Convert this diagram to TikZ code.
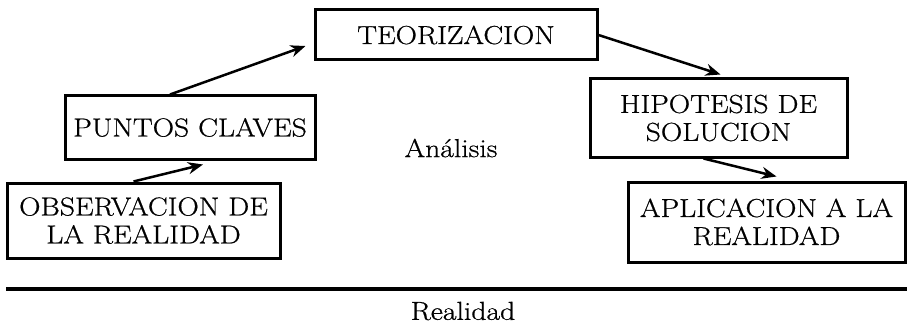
\documentclass[tikz,border=0pt]{standalone}
\usepackage{fontspec}
\setmainfont{Latin Modern Roman}[FakeStretch=1.14,FakeBold=0.7]
\usetikzlibrary{arrows.meta}
\tikzset{
  paso/.style = {align=center, inner sep=0pt, text centered,
    font=\fontsize{26}{28}\selectfont},
  paso_n/.style = {paso, rectangle, draw=black, line width=3pt},
  paso_t/.style = {paso}
}

\begin{document}
\begin{tikzpicture}[->,>={Stealth[length=15pt,width=12pt]},x=1pt,y=-1pt,
  line width=2.5pt]
\useasboundingbox (0,0) rectangle (911,329);
\node [paso_n, minimum width=273pt, minimum height=75pt] (obs) at (143.5,220.5)
  {OBSERVACION DE\\LA REALIDAD};
\node [paso_n, minimum width=250pt, minimum height=63pt] (puntos) at (190,127.5)
  {PUNTOS CLAVES};
\node [paso_n, minimum width=282pt, minimum height=50pt] (teor) at (456,35)
  {TEORIZACION};
\node [paso_n, minimum width=257pt, minimum height=78pt] (hipo) at (718.5,118)
  {HIPOTESIS DE\\SOLUCION};
\node [paso_n, minimum width=277pt, minimum height=80pt] (aplic) at (766.5,222)
  {APLICACION A LA\\REALIDAD};
\node [paso_t] (analisis) at (451,148) {Análisis};
\node [paso_t] (realidad) at (463,311) {Realidad};
% linea de la realidad
\coordinate (r_izq) at (6,289);
\coordinate (r_der) at (907,289);
\draw [-, line width=4pt] (r_izq) -- (r_der);
% ciclo
\draw ([xshift=-10pt]obs.north) -- ([shift={(13,4)}]puntos.south);
\draw ([xshift=-20pt]puntos.north) -- ([shift={(-8,11)}]teor.west);
\draw (teor.east) -- ([shift={(2,-3)}]hipo.north);
\draw ([xshift=-15pt]hipo.south) -- ([shift={(10,-4)}]aplic.north);
\end{tikzpicture}
\end{document}
